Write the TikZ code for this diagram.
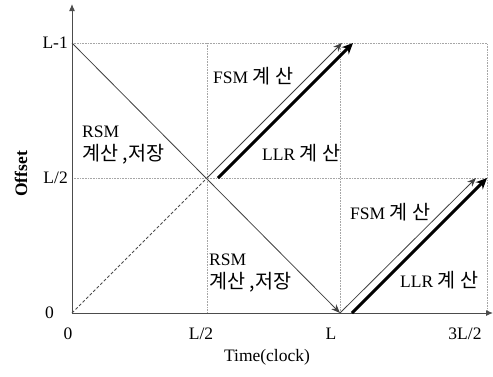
\documentclass[tikz,border=0pt]{standalone}
\usepackage{fontspec}
\setmainfont{Liberation Serif}
\newfontfamily\kr{Noto Sans CJK KR}[Scale=1.12]
\usetikzlibrary{arrows.meta}
\begin{document}
\begin{tikzpicture}[x=1pt,y=-1pt,
  grid/.style={gray!70,densely dotted,line width=0.6pt},
  axis/.style={line width=1pt,draw=black!70,-{Latex[length=7pt,width=6pt]}},
  thin/.style={line width=0.8pt,draw=black!75,-{Stealth[length=9pt,width=7pt]}},
  thick/.style={line width=3pt,-{Stealth[length=11pt,width=10pt]}},
  lab/.style={font=\fontsize{17.5}{20}\selectfont,inner sep=0pt},
  klab/.style={font=\fontsize{17.5}{22}\selectfont,inner sep=0pt,align=left}]
\useasboundingbox (0,0) rectangle (493,376);
\coordinate (O) at (72,313);
\coordinate (YT) at (72,4);
\coordinate (XT) at (493,313);
\coordinate (TL) at (72,43);
\coordinate (ML) at (72,178);
\coordinate (C) at (207,178);
\coordinate (LB) at (340,313);
\coordinate (T1) at (342,43);
\coordinate (S2) at (218,178);
\coordinate (T2) at (353,43);
\coordinate (T3) at (476,178);
\coordinate (S4) at (352,313);
\coordinate (T4) at (487,178);
% grid
\draw[grid] (TL) -- (487,43) -- (487,313);
\draw[grid] (ML) -- (487,178);
\draw[grid] (207,43) -- (207,313);
\draw[grid] (340,43) -- (LB);
% axes
\draw[axis] (O) -- (YT);
\draw[axis] (O) -- (XT);
% lines
\draw[line width=0.8pt,black!75,-{Stealth[length=9pt,width=7pt]}] (TL) -- (LB);
\draw[densely dashed,line width=0.8pt,black!70] (O) -- (C);
\draw[thin] (C) -- (T1);
\draw[thick] (S2) -- (T2);
\draw[thin] (LB) -- (T3);
\draw[thick] (S4) -- (T4);
% axis labels
\node[lab,anchor=east] (yl1) at (68,43) {L-1};
\node[lab,anchor=east] (yl2) at (68,178) {L/2};
\node[lab,anchor=east] (yl0) at (54,313) {0};
\node[lab] (xl0) at (68,334) {0};
\node[lab] (xl1) at (201,334) {L/2};
\node[lab] (xl2) at (331,334) {L};
\node[lab] (xl3) at (465,334) {3L/2};
\node[lab,rotate=90,font=\fontsize{17.5}{20}\selectfont\bfseries] (yname) at (21,174) {Offset};
\node[lab] (xname) at (267,357) {Time(clock)};
% region labels
\node[klab,anchor=west] (f1) at (213,76) {FSM {\kr 계 산}};
\node[klab,anchor=west] (l1) at (262,153) {LLR {\kr 계 산}};
\node[klab,anchor=north west] (r1) at (82,126) {RSM\\[1pt]{\kr 계산 ,저장}};
\node[klab,anchor=north west] (r2) at (209,254) {RSM\\[1pt]{\kr 계산 ,저장}};
\node[klab,anchor=west] (f2) at (350,212) {FSM {\kr 계 산}};
\node[klab,anchor=west] (l2) at (400,280) {LLR {\kr 계 산}};
\end{tikzpicture}
\end{document}
